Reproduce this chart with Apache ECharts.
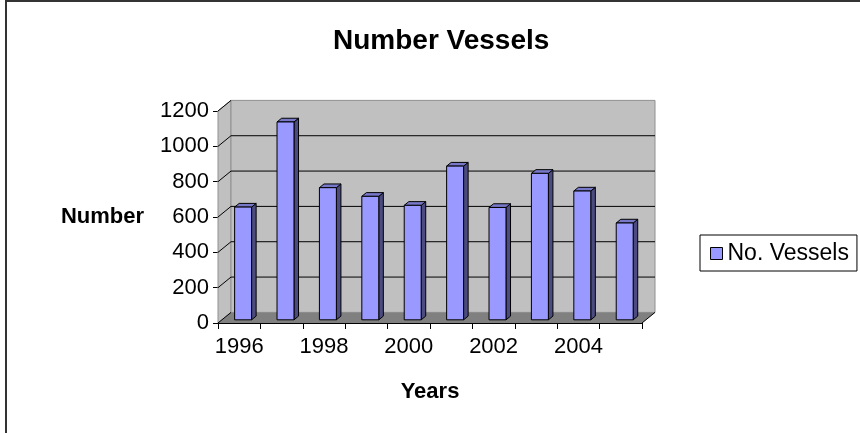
<!DOCTYPE html>
<html>
<head>
<meta charset="utf-8">
<script src="https://cdn.jsdelivr.net/npm/echarts@6/dist/echarts.min.js"></script>
<style>
  html, body { margin: 0; padding: 0; background: #fff; }
  #chart { width: 860px; height: 433px; }
</style>
</head>
<body>
<div id="chart"></div>
<script>
// data
var years = ['1996', '1997', '1998', '1999', '2000', '2001', '2002', '2003', '2004', '2005']
var vessels = [638, 1120, 748, 699, 648, 870, 636, 829, 729, 548]
var yMax = 1200
var yStep = 200

// depth of the fake 3d box (front plane -> back wall)
var DX = 13
var DY = -10.6
var FONT = 'Liberation Sans, Arial, sans-serif'

var chart = echarts.init(document.getElementById('chart'))

function renderWalls(params, api) {
	var cs = params.coordSys
	var x0 = cs.x, x1 = cs.x + cs.width
	var yT = cs.y, yB = cs.y + cs.height
	var kids = []
	// left side wall
	kids.push({
		type: 'polygon',
		shape: { points: [[x0, yT], [x0 + DX, yT + DY], [x0 + DX, yB + DY], [x0, yB]] },
		style: { fill: '#c0c0c0', stroke: '#909090', lineWidth: 1 }
	})
	// back wall
	kids.push({
		type: 'rect',
		shape: { x: x0 + DX, y: yT + DY, width: x1 - x0, height: yB - yT },
		style: { fill: '#c0c0c0', stroke: '#909090', lineWidth: 1 }
	})
	// floor
	kids.push({
		type: 'polygon',
		shape: { points: [[x0, yB], [x1, yB], [x1 + DX, yB + DY], [x0 + DX, yB + DY]] },
		style: { fill: '#808080', stroke: null }
	})
	kids.push({
		type: 'line',
		shape: { x1: x1, y1: yB, x2: x1 + DX, y2: yB + DY },
		style: { stroke: '#000', lineWidth: 1 }
	})
	// gridlines on back wall + side wall
	for (var v = 0; v <= yMax; v += yStep) {
		var y = api.coord([0, v])[1]
		kids.push({
			type: 'line',
			shape: { x1: x0, y1: y, x2: x0 + DX, y2: y + DY },
			style: { stroke: '#000', lineWidth: 1 }
		})
		if (v > 0 && v < yMax) {
			kids.push({
				type: 'line',
				shape: { x1: x0 + DX, y1: y + DY, x2: x1 + DX, y2: y + DY },
				style: { stroke: '#000', lineWidth: 1 }
			})
		}
	}
	return { type: 'group', children: kids }
}

function renderBar(params, api) {
	var top = api.coord([api.value(0), api.value(1)])
	var base = api.coord([api.value(0), 0])
	var bw = api.size([1, 0])[0] * 0.4
	var ox = DX * 0.3, oy = DY * 0.3
	var dx = DX * 0.35, dy = DY * 0.35
	var xa = top[0] - bw / 2 + ox, xb = xa + bw
	var ya = top[1] + oy, yb = base[1] + oy
	return {
		type: 'group',
		children: [
			{
				type: 'polygon',
				shape: { points: [[xb, ya], [xb + dx, ya + dy], [xb + dx, yb + dy], [xb, yb]] },
				style: { fill: '#4b4b80', stroke: '#000', lineWidth: 1 }
			},
			{
				type: 'polygon',
				shape: { points: [[xa, ya], [xa + dx, ya + dy], [xb + dx, ya + dy], [xb, ya]] },
				style: { fill: '#7878c8', stroke: '#000', lineWidth: 1 }
			},
			{
				type: 'rect',
				shape: { x: xa, y: ya, width: bw, height: yb - ya },
				style: { fill: '#9999ff', stroke: '#000', lineWidth: 1 }
			}
		]
	}
}

var option = {
	animation: false,
	backgroundColor: '#fff',
	title: {
		text: 'Number Vessels',
		left: 328,
		top: 22,
		textStyle: { fontFamily: FONT, fontSize: 28, fontWeight: 'bold', color: '#000' }
	},
	legend: {
		data: [{ name: 'No. Vessels', icon: 'rect' }],
		left: 700,
		top: 235,
		width: 158,
		padding: [7, 8, 6, 10],
		borderColor: '#000',
		borderWidth: 1,
		itemWidth: 12,
		itemHeight: 12,
		itemGap: 5,
		itemStyle: { color: '#9999ff', borderColor: '#000', borderWidth: 1 },
		textStyle: { fontFamily: FONT, fontSize: 23, color: '#000', padding: [0, 0, 0, 0] }
	},
	grid: { left: 218, top: 111, width: 424, height: 212 },
	xAxis: {
		type: 'category',
		data: years,
		name: 'Years',
		nameLocation: 'middle',
		nameGap: 58,
		nameTextStyle: { fontFamily: FONT, fontSize: 22, fontWeight: 'bold', color: '#000' },
		axisLine: { lineStyle: { color: '#000', width: 1 } },
		axisTick: { show: true, length: 6, interval: 0, lineStyle: { color: '#000' } },
		axisLabel: { interval: 1, margin: 13, fontFamily: FONT, fontSize: 22, color: '#000' },
		splitLine: { show: false }
	},
	yAxis: {
		type: 'value',
		min: 0,
		max: yMax,
		interval: yStep,
		name: 'Number',
		nameLocation: 'middle',
		nameRotate: 0,
		nameGap: 74,
		nameTextStyle: { fontFamily: FONT, fontSize: 22, fontWeight: 'bold', color: '#000' },
		axisLine: { show: true, lineStyle: { color: '#000', width: 1 } },
		axisTick: { show: true, length: 5, lineStyle: { color: '#000' } },
		axisLabel: {
			margin: 9, fontFamily: FONT, fontSize: 22, color: '#000',
			formatter: function (value) { return String(value) }
		},
		splitLine: { show: false }
	},
	graphic: [{
		type: 'rect',
		shape: { x: 6, y: 1, width: 900, height: 500 },
		style: { fill: null, stroke: '#333', lineWidth: 2 },
		silent: true
	}],
	series: [
		{
			name: 'walls',
			type: 'custom',
			renderItem: renderWalls,
			data: [[0, 0]],
			silent: true,
			z: 1
		},
		{
			name: 'No. Vessels',
			type: 'custom',
			renderItem: renderBar,
			itemStyle: { color: '#9999ff', borderColor: '#000', borderWidth: 1 },
			encode: { x: 0, y: 1 },
			data: vessels.map(function (v, i) { return [i, v] }),
			z: 3
		}
	]
}

chart.setOption(option)
</script>
</body>
</html>
